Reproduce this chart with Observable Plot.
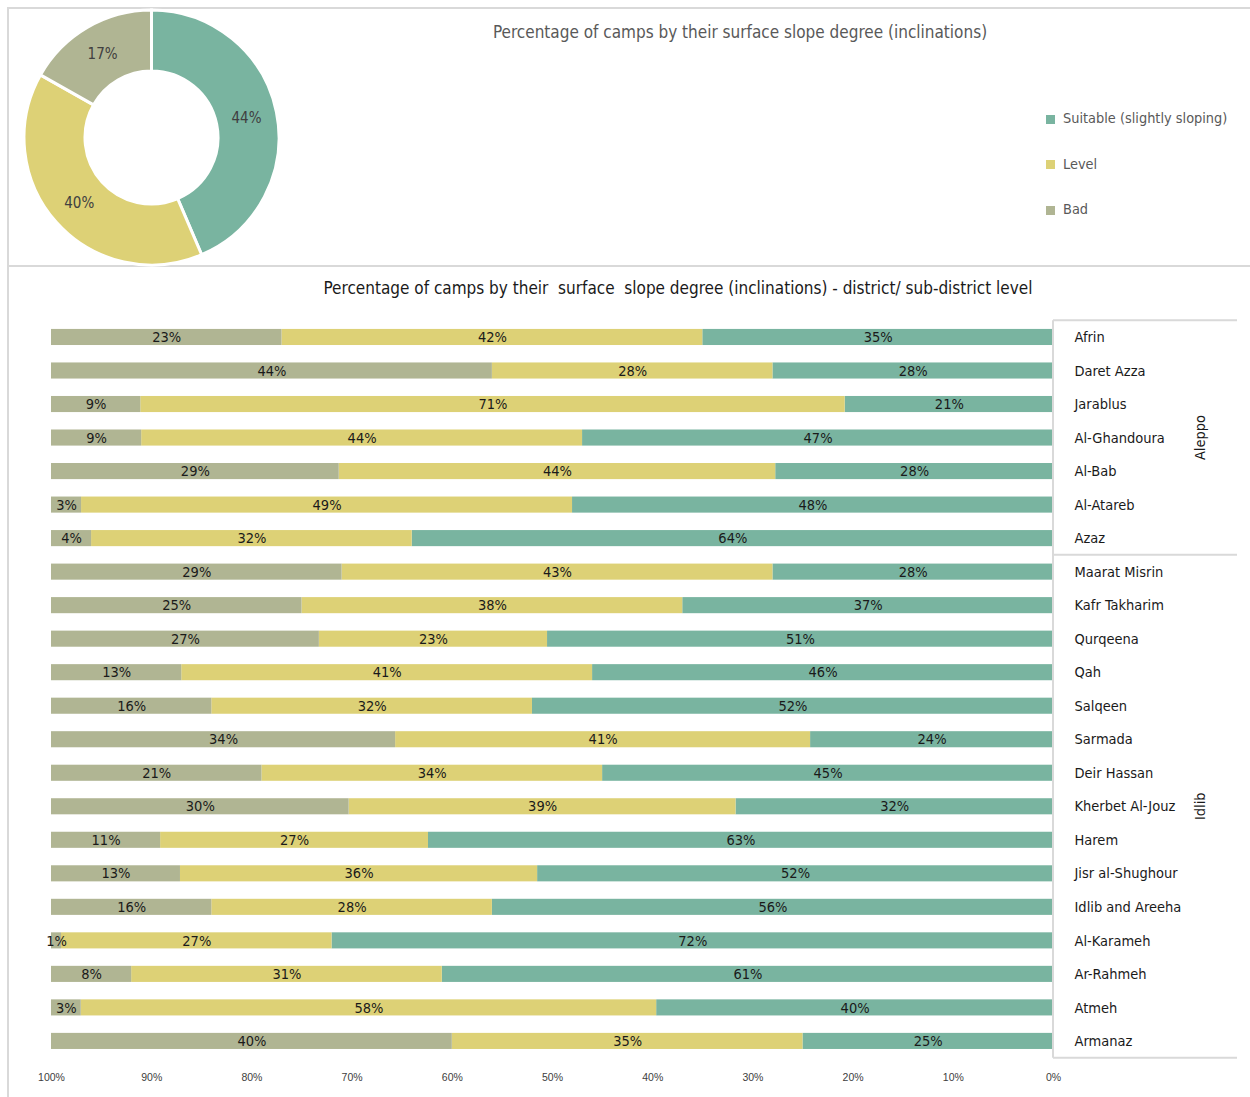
<!DOCTYPE html>
<html>
<head>
<meta charset="utf-8">
<script src="https://cdn.jsdelivr.net/npm/d3@7"></script>
<script src="https://cdn.jsdelivr.net/npm/@observablehq/plot@0.6"></script>
<style>
  body { margin: 0; background: #fff; }
  #page { position: relative; width: 1250px; height: 1097px; overflow: hidden;
          font-family: "Liberation Sans Narrow", "DejaVu Sans Condensed", "Roboto", sans-serif; }
  .rule { position: absolute; background: #d9d9d9; }
  .title { position: absolute; white-space: pre; transform: translate(-50%, -50%); }
  .legend { position: absolute; left: 1046px; font-size: 14.4px; color: #595959; }
  .legend .sw { display: inline-block; width: 9px; height: 9px; margin-right: 8px; vertical-align: middle; }
  .legend div { position: absolute; white-space: nowrap; transform: translateY(-50%); }
  #donut, #bars { position: absolute; }
  #bars g[aria-label^="x-axis"] text { font-size: 10.5px; fill: #404040; font-family: "Liberation Sans", sans-serif; }
</style>
</head>
<body>
<div id="page">
  <div class="rule" style="left:7px;top:7px;width:2px;height:1090px"></div>
  <div class="rule" style="left:7px;top:7px;width:1243px;height:2px"></div>
  <div class="rule" style="left:7px;top:265px;width:1243px;height:2px"></div>
  <div id="donut" style="left:20px;top:6px"></div>
  <div class="title" id="t1" style="left:740px;top:32px;font-size:17px;color:#595959"></div>
  <div class="legend" id="legend"></div>
  <div class="title" id="t2" style="left:678px;top:288px;font-size:17px;color:#1a1a1a"></div>
  <div id="bars" style="left:0;top:300px"></div>
</div>
<script>
// ---------- data ----------
const categories = ["Suitable (slightly sloping)", "Level", "Bad"];
const colors = ["#79b4a0", "#ddd176", "#b0b593"];
const overallValues = [44, 40, 17];

const districts = ["Afrin", "Daret Azza", "Jarablus", "Al-Ghandoura", "Al-Bab", "Al-Atareb", "Azaz",
  "Maarat Misrin", "Kafr Takharim", "Qurqeena", "Qah", "Salqeen", "Sarmada", "Deir Hassan",
  "Kherbet Al-Jouz", "Harem", "Jisr al-Shughour", "Idlib and Areeha", "Al-Karameh", "Ar-Rahmeh",
  "Atmeh", "Armanaz"];
const governorates = ["Aleppo", "Aleppo", "Aleppo", "Aleppo", "Aleppo", "Aleppo", "Aleppo",
  "Idlib", "Idlib", "Idlib", "Idlib", "Idlib", "Idlib", "Idlib", "Idlib", "Idlib", "Idlib",
  "Idlib", "Idlib", "Idlib", "Idlib", "Idlib"];
const suitable = [35, 28, 21, 47, 28, 48, 64, 28, 37, 51, 46, 52, 24, 45, 32, 63, 52, 56, 72, 61, 40, 25];
const level    = [42, 28, 71, 44, 44, 49, 32, 43, 38, 23, 41, 32, 41, 34, 39, 27, 36, 28, 27, 31, 58, 35];
const bad      = [23, 44,  9,  9, 29,  3,  4, 29, 25, 27, 13, 16, 34, 21, 30, 11, 13, 16,  1,  8,  3, 40];
const xTicks = [1, 0.9, 0.8, 0.7, 0.6, 0.5, 0.4, 0.3, 0.2, 0.1, 0];

const title1 = "Percentage of camps by their surface slope degree (inclinations)";
const title2 = "Percentage of camps by their  surface  slope degree (inclinations) - district/ sub-district level";

// ---------- titles & legend ----------
document.getElementById("t1").textContent = title1;
document.getElementById("t2").textContent = title2;
const legend = document.getElementById("legend");
categories.forEach((c, i) => {
  const d = document.createElement("div");
  d.style.top = (118 + i * 45.5) + "px";
  d.innerHTML = `<span class="sw" style="background:${colors[i]}"></span>`;
  d.appendChild(document.createTextNode(c));
  legend.appendChild(d);
});

// ---------- donut ----------
const pieData = categories.map((c, i) => ({cat: c, value: overallValues[i], color: colors[i]}));
function donutMark(index, scales, values, dimensions) {
  const cx = dimensions.width / 2, cy = dimensions.height / 2;
  const outer = 127.5, inner = 66.5;
  const arcs = d3.pie().sort(null).value(d => d.value)(pieData);
  const arc = d3.arc().innerRadius(inner).outerRadius(outer);
  const g = d3.create("svg:g").attr("transform", `translate(${cx},${cy})`);
  g.selectAll("path").data(arcs).join("path")
    .attr("d", arc).attr("fill", d => d.data.color)
    .attr("stroke", "#fff").attr("stroke-width", 3);
  g.selectAll("text").data(arcs).join("text")
    .attr("transform", d => `translate(${arc.centroid(d)})`)
    .attr("text-anchor", "middle").attr("dy", "0.35em")
    .attr("fill", "#404040").attr("font-size", 15)
    .text(d => d.data.value + "%");
  return g.node();
}
document.getElementById("donut").appendChild(Plot.plot({
  width: 263, height: 263, margin: 0,
  style: {background: "transparent", fontFamily: "Liberation Sans Narrow, DejaVu Sans Condensed, sans-serif"},
  marks: [donutMark]
}));

// ---------- bars ----------
const rows = [];
districts.forEach((d, i) => {
  rows.push({name: d, cat: categories[0], value: suitable[i]});
  rows.push({name: d, cat: categories[1], value: level[i]});
  rows.push({name: d, cat: categories[2], value: bad[i]});
});
const pad = 0.52;

function groupBox(index, scales, values, dimensions) {
  const {x, y} = scales;
  const step = y(districts[1]) - y(districts[0]);
  const gap = step * pad / 2;
  const x0 = x(0), x1 = x0 + 184;
  const g = d3.create("svg:g").attr("stroke", "#d9d9d9").attr("stroke-width", 2);
  const top = y(districts[0]) - gap;
  const bottom = y(districts[districts.length - 1]) + step - gap;
  g.append("line").attr("x1", x0).attr("x2", x0).attr("y1", top).attr("y2", bottom);
  const groups = Array.from(new Set(governorates));
  const boundaries = [top];
  groups.forEach(gr => {
    const members = districts.filter((d, i) => governorates[i] === gr);
    const s = y(members[0]) - gap;
    const e = y(members[members.length - 1]) + step - gap;
    boundaries.push(e);
    g.append("text")
      .attr("stroke", "none").attr("fill", "#1a1a1a").attr("font-size", 14.5)
      .attr("text-anchor", "middle").attr("dy", "0.35em")
      .attr("transform", `translate(${x0 + 147},${(s + e) / 2}) rotate(-90)`)
      .text(gr);
  });
  boundaries.forEach(b => g.append("line").attr("x1", x0).attr("x2", x1).attr("y1", b).attr("y2", b));
  return g.node();
}

document.getElementById("bars").appendChild(Plot.plot({
  width: 1250, height: 797,
  marginLeft: 51, marginRight: 197, marginTop: 11.5, marginBottom: 30.6,
  x: {domain: [0, 1], reverse: true, ticks: xTicks, tickFormat: d => Math.round(d * 100) + "%",
      tickSize: 0, tickPadding: 7, label: null},
  y: {domain: districts, padding: pad, round: false, axis: "right", tickSize: 0, tickPadding: 21, label: null},
  color: {domain: categories, range: colors},
  style: {background: "transparent", color: "#1a1a1a", fontSize: "14.5px", overflow: "visible",
          fontFamily: "Liberation Sans Narrow, DejaVu Sans Condensed, sans-serif"},
  marks: [
    Plot.barX(rows, Plot.stackX({x: "value", y: "name", z: "cat", fill: "cat", order: categories, offset: "normalize"})),
    Plot.text(rows, Plot.stackX({x: "value", y: "name", z: "cat", order: categories, offset: "normalize",
      text: d => d.value + "%", fill: "#1a1a1a", fontSize: 14.5})),
    groupBox
  ]
}));
</script>
</body>
</html>
